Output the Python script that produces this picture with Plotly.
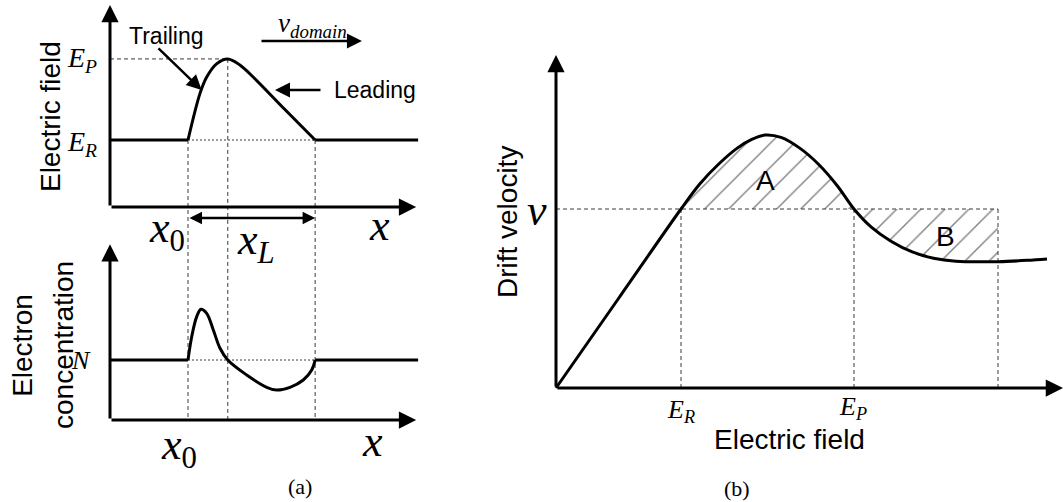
import numpy as np
import plotly.graph_objects as go

W, H = 1063, 502

# ---- panel (a), upper: electric-field profile of the domain along x ----
FIELD_X = [0.0, 2.0, 2.31, 2.48, 2.74, 3.02, 3.33, 3.67, 4.46, 5.26, 7.9]
FIELD_Y = [1.0, 1.0, 1.70, 1.94, 2.14, 2.21, 2.12, 1.94, 1.47, 1.0, 1.0]
E_R_LEVEL = 1.0
E_P_LEVEL = 2.21
X0 = 2.0
X_PEAK = 3.02
X_END = 5.26

# ---- panel (a), lower: electron concentration along x ----
CONC_X = [0.0, 2.0, 2.095, 2.223, 2.333, 2.479, 2.649, 2.821, 3.02, 3.505,
          4.018, 4.274, 4.615, 4.956, 5.172, 5.26, 7.9]
CONC_Y = [1.0, 1.0, 1.388, 1.722, 1.845, 1.778, 1.5, 1.195, 1.0, 0.75,
          0.545, 0.5, 0.545, 0.667, 0.833, 1.0, 1.0]
N_LEVEL = 1.0

# ---- panel (b): drift velocity versus electric field ----
E_FIELD = [0.0, 0.5, 1.0, 1.15, 1.30, 1.45, 1.57, 1.672, 1.80, 1.95, 2.10,
           2.25, 2.384, 2.52, 2.68, 2.85, 3.02, 3.20, 3.536, 3.77, 3.928]
V_DRIFT = [0.0, 0.5, 1.0, 1.14, 1.25, 1.34, 1.39, 1.413, 1.40, 1.34, 1.25,
           1.13, 1.0, 0.90, 0.82, 0.76, 0.725, 0.708, 0.706, 0.713, 0.721]
E_R = 1.0
E_P = 2.384
E_B = 3.536
V_LEVEL = 1.0

# pixel frame of each panel: origin and pixels per data unit
TOP = dict(ox=110, oy=207, sx=39, sy=67)
BOT = dict(ox=110, oy=420, sx=39, sy=60)
RGT = dict(ox=556, oy=388, sx=125, sy=179)


def xr(f):
    return [-f["ox"] / f["sx"], (W - f["ox"]) / f["sx"]]


def yr(f):
    return [(f["oy"] - H) / f["sy"], f["oy"] / f["sy"]]


# axis extents (arrow tips) in data units
TOP_XMAX, TOP_YMAX = 7.85, 3.015
BOT_XMAX, BOT_YMAX = 7.85, 2.93
RGT_XMAX, RGT_YMAX = 4.056, 1.86
# bottom axis of the lower panel expressed in the upper panel's units
Y_BOTTOM_IN_TOP = (TOP["oy"] - BOT["oy"]) / TOP["sy"]

SANS = "Liberation Sans, Arial, sans-serif"
SERIF = "Liberation Serif, Times New Roman, serif"
BLACK = "#000000"
GUIDE = "#3a3a3a"
DASH = "4px,3px"
DOT = "2px,2px"

fig = go.Figure()

fx, fy = np.array(FIELD_X), np.array(FIELD_Y)
cx, cy = np.array(CONC_X), np.array(CONC_Y)
ex, vy = np.array(E_FIELD), np.array(V_DRIFT)


def line(x, y, xa, ya, shape="linear", width=3, color=BLACK, dash=None):
    fig.add_trace(go.Scatter(
        x=list(x), y=list(y), xaxis=xa, yaxis=ya, mode="lines",
        line=dict(color=color, width=width, shape=shape, dash=dash),
        hoverinfo="skip", showlegend=False))


# --- guides, panel (a) ---
line([0, X_PEAK], [E_P_LEVEL, E_P_LEVEL], "x", "y", width=1, color=GUIDE, dash=DASH)
line([X0, X_END], [E_R_LEVEL, E_R_LEVEL], "x", "y", width=1, color=GUIDE, dash=DOT)
line([X0, X0, None, X_PEAK, X_PEAK, None, X_END, X_END],
     [E_R_LEVEL, Y_BOTTOM_IN_TOP, None, E_P_LEVEL, Y_BOTTOM_IN_TOP, None,
      E_R_LEVEL, Y_BOTTOM_IN_TOP],
     "x", "y", width=1, color=GUIDE, dash=DASH)
line([X0, X_END], [N_LEVEL, N_LEVEL], "x2", "y2", width=1, color=GUIDE, dash=DOT)

# --- field profile ---
m = fx <= X0
line(fx[m], fy[m], "x", "y")
m = (fx >= X0) & (fx <= X_END)
line(fx[m], fy[m], "x", "y", shape="spline")
m = fx >= X_END
line(fx[m], fy[m], "x", "y")

# --- concentration profile ---
m = cx <= X0
line(cx[m], cy[m], "x2", "y2")
m = (cx >= X0) & (cx <= X_END)
line(cx[m], cy[m], "x2", "y2", shape="spline")
m = cx >= X_END
line(cx[m], cy[m], "x2", "y2")

# --- panel (b): hatched areas A and B ---
hatch = dict(shape="/", fgcolor="#000000", bgcolor="rgba(0,0,0,0)",
             size=17, solidity=0.08, fillmode="overlay")
m = (ex >= E_R) & (ex <= E_P)
fig.add_trace(go.Scatter(
    x=list(ex[m]), y=list(vy[m]), xaxis="x3", yaxis="y3", mode="lines",
    line=dict(width=0, shape="spline"), fill="toself",
    fillcolor="rgba(0,0,0,0)", fillpattern=hatch,
    hoverinfo="skip", showlegend=False))
fig.add_trace(go.Scatter(
    x=[E_P, E_B], y=[V_LEVEL, V_LEVEL], xaxis="x3", yaxis="y3", mode="lines",
    line=dict(width=0), hoverinfo="skip", showlegend=False))
m = (ex >= E_P) & (ex <= E_B)
fig.add_trace(go.Scatter(
    x=list(ex[m]), y=list(vy[m]), xaxis="x3", yaxis="y3", mode="lines",
    line=dict(width=0, shape="spline"), fill="tonexty",
    fillcolor="rgba(0,0,0,0)", fillpattern=hatch,
    hoverinfo="skip", showlegend=False))

# --- panel (b): guides ---
line([0, E_B], [V_LEVEL, V_LEVEL], "x3", "y3", width=1, color=GUIDE, dash=DASH)
line([E_R, E_R, None, E_P, E_P, None, E_B, E_B],
     [0, V_LEVEL, None, 0, V_LEVEL, None, 0, V_LEVEL],
     "x3", "y3", width=1, color=GUIDE, dash=DASH)

# --- panel (b): drift-velocity curve ---
line(ex, vy, "x3", "y3", shape="spline")

ann = []


def arrow(x0, y0, x1, y1, xa, ya, width=3, size=1.15, head=2, side="end"):
    ann.append(dict(x=x1, y=y1, ax=x0, ay=y0, xref=xa, yref=ya,
                    axref=xa, ayref=ya, text="", showarrow=True,
                    arrowhead=head, arrowsize=size, arrowwidth=width,
                    arrowcolor=BLACK, arrowside=side, standoff=0,
                    startstandoff=0))


def label(text, x, y, xa, ya, size, family=SANS, angle=0,
          xanchor="center", yanchor="middle", xshift=0, yshift=0):
    ann.append(dict(x=x, y=y, xref=xa, yref=ya, text=text, showarrow=False,
                    font=dict(family=family, size=size, color=BLACK),
                    textangle=angle, xanchor=xanchor, yanchor=yanchor,
                    xshift=xshift, yshift=yshift))


# axes with arrowheads
arrow(0, 0, 0, TOP_YMAX, "x", "y")
arrow(0, 0, TOP_XMAX, 0, "x", "y")
arrow(0, 0, 0, BOT_YMAX, "x2", "y2")
arrow(0, 0, BOT_XMAX, 0, "x2", "y2")
arrow(0, 0, 0, RGT_YMAX, "x3", "y3")
arrow(0, 0, RGT_XMAX, 0, "x3", "y3")

# annotation arrows, panel (a)
arrow(1.205, 2.388, 2.35, 1.746, "x", "y", width=2.5, size=1.2)
arrow(5.436, 1.746, 4.23, 1.746, "x", "y", width=2.5, size=1.2)
arrow(3.846, 2.478, 6.46, 2.478, "x", "y", width=2.5, size=1.2)
arrow(X0, -0.164, X_END, -0.164, "x", "y", width=2.5, size=1.0, side="end+start")

# texts, panel (a)
label("Electric field", -1.538, 1.343, "x", "y", 28, angle=-90)
label("<i>E</i><sub><i>P</i></sub>", 0, E_P_LEVEL, "x", "y", 28, family=SERIF,
      xanchor="right", xshift=-11, yshift=-1)
label("<i>E</i><sub><i>R</i></sub>", 0, E_R_LEVEL, "x", "y", 28, family=SERIF,
      xanchor="right", xshift=-11, yshift=-3)
label("Trailing", 1.436, 2.552, "x", "y", 23)
label("Leading", 6.795, 1.746, "x", "y", 23)
label("<i>v</i><sub><i>domain</i></sub>", 5.18, 2.72, "x", "y", 27, family=SERIF)
label("<i>x</i><sub>0</sub>", 1.46, -0.358, "x", "y", 44, family=SERIF)
label("<i>x</i><sub><i>L</i></sub>", 3.74, -0.537, "x", "y", 44, family=SERIF)
label("<i>x</i>", 6.9, -0.269, "x", "y", 44, family=SERIF)

label("Electron", -2.26, 1.25, "x2", "y2", 28, angle=-90)
label("concentration", -1.205, 1.25, "x2", "y2", 28, angle=-90)
label("<i>N</i>", 0, N_LEVEL, "x2", "y2", 26, family=SERIF,
      xanchor="right", xshift=-17)
label("<i>x</i><sub>0</sub>", 1.78, -0.45, "x2", "y2", 44, family=SERIF)
label("<i>x</i>", 6.74, -0.35, "x2", "y2", 44, family=SERIF)
label("(a)", 4.87, -1.11, "x2", "y2", 22, family=SERIF)

# texts, panel (b)
label("Drift velocity", -0.392, 0.927, "x3", "y3", 28, angle=-90)
label("<i>v</i>", -0.152, 0.994, "x3", "y3", 44, family=SERIF)
label("<i>E</i><sub><i>R</i></sub>", 1.0, -0.13, "x3", "y3", 26, family=SERIF)
label("<i>E</i><sub><i>P</i></sub>", 2.376, -0.11, "x3", "y3", 26, family=SERIF)
label("Electric field", 1.864, -0.285, "x3", "y3", 28)
label("(b)", 1.448, -0.56, "x3", "y3", 22, family=SERIF)
label("A", 1.672, 1.162, "x3", "y3", 28)
label("B", 3.112, 0.849, "x3", "y3", 28)

hidden = dict(visible=False, fixedrange=True, domain=[0, 1])
fig.update_layout(
    width=W, height=H, margin=dict(l=0, r=0, t=0, b=0),
    paper_bgcolor="white", plot_bgcolor="rgba(0,0,0,0)", showlegend=False,
    xaxis=dict(hidden, range=xr(TOP), anchor="y"),
    yaxis=dict(hidden, range=yr(TOP), anchor="x"),
    xaxis2=dict(hidden, range=xr(BOT), anchor="y2"),
    yaxis2=dict(hidden, range=yr(BOT), anchor="x2"),
    xaxis3=dict(hidden, range=xr(RGT), anchor="y3"),
    yaxis3=dict(hidden, range=yr(RGT), anchor="x3"),
    annotations=ann,
)

fig.write_html("out.html")
